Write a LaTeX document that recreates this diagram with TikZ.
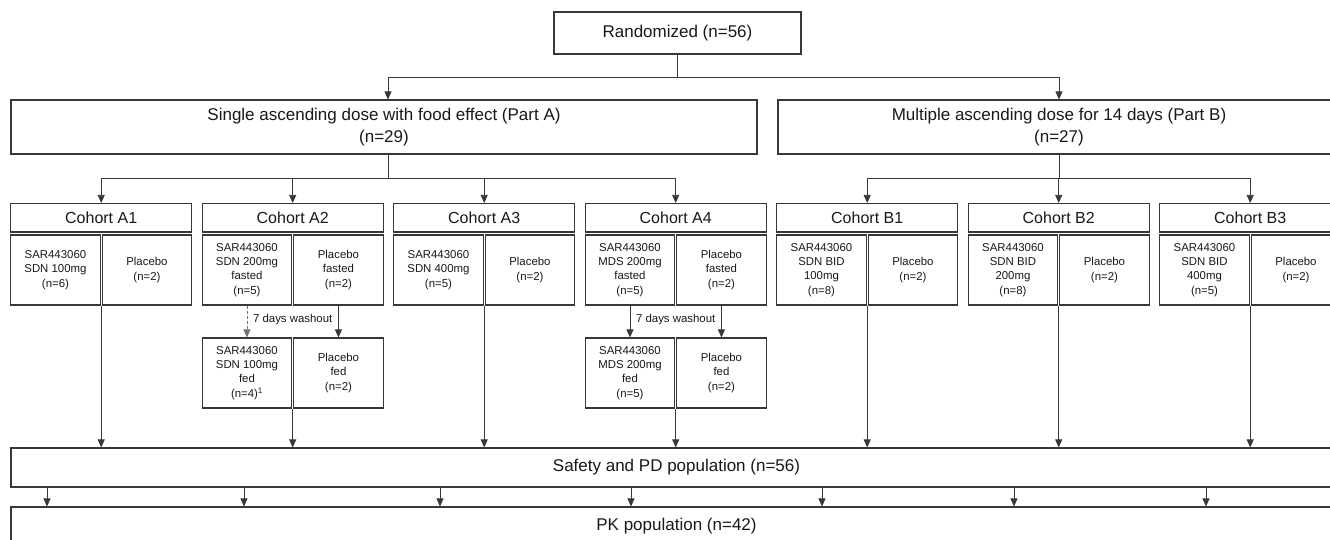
\documentclass[tikz,border=0pt]{standalone}
\usepackage{fontspec}
\setmainfont{Liberation Sans}
\usetikzlibrary{arrows.meta,calc}
\begin{document}
\begin{tikzpicture}[x=1pt,y=-1pt,
  box/.style={draw=black!78, line width=1.1pt, inner sep=0pt, align=center, text=black!90},
  big/.style={box, font=\fontsize{17}{22}\selectfont},
  coh/.style={box, font=\fontsize{16}{19}\selectfont, minimum width=181pt, minimum height=28.5pt},
  sub/.style={box, font=\fontsize{11.4}{14.3}\selectfont, minimum width=89.5pt, minimum height=70pt},
  lbl/.style={inner sep=1pt, text=black!90, font=\fontsize{11.4}{14.3}\selectfont},
  conn/.style={draw=black!78, line width=0.7pt},
  arr/.style={conn, -{Triangle[width=7pt,length=8pt]}},
]
\path[use as bounding box] (0,0) rectangle (1330,540);
\fill[white] (0,0) rectangle (1330,540);
\clip (0,0) rectangle (1330,540);

% top level
\node[big, minimum width=247pt, minimum height=42pt] (rand) at (677.5,33) {Randomized (n=56)};
\node[big, minimum width=746pt, minimum height=54pt] (partA) at (384,127) {Single ascending dose with food effect (Part A)\\(n=29)};
\node[big, minimum width=562pt, minimum height=54pt] (partB) at (1059,127) {Multiple ascending dose for 14 days (Part B)\\(n=27)};

% cohort titles
\node[coh] (cA1) at (101.2,217.75) {Cohort A1};
\node[coh] (cA2) at (292.7,217.75) {Cohort A2};
\node[coh] (cA3) at (484.2,217.75) {Cohort A3};
\node[coh] (cA4) at (675.7,217.75) {Cohort A4};
\node[coh] (cB1) at (867.2,217.75) {Cohort B1};
\node[coh] (cB2) at (1058.7,217.75) {Cohort B2};
\node[coh] (cB3) at (1250.2,217.75) {Cohort B3};

% first row of arms
\node[sub] (sA1) at (55.45,270) {SAR443060\\SDN 100mg\\(n=6)};
\node[sub] (pA1) at (146.95,270) {Placebo\\(n=2)};
\node[sub] (sA2) at (246.95,270) {SAR443060\\SDN 200mg\\fasted\\(n=5)};
\node[sub] (pA2) at (338.45,270) {Placebo\\fasted\\(n=2)};
\node[sub] (sA3) at (438.45,270) {SAR443060\\SDN 400mg\\(n=5)};
\node[sub] (pA3) at (529.95,270) {Placebo\\(n=2)};
\node[sub] (sA4) at (629.95,270) {SAR443060\\MDS 200mg\\fasted\\(n=5)};
\node[sub] (pA4) at (721.45,270) {Placebo\\fasted\\(n=2)};
\node[sub] (sB1) at (821.45,270) {SAR443060\\SDN BID\\100mg\\(n=8)};
\node[sub] (pB1) at (912.95,270) {Placebo\\(n=2)};
\node[sub] (sB2) at (1012.95,270) {SAR443060\\SDN BID\\200mg\\(n=8)};
\node[sub] (pB2) at (1104.45,270) {Placebo\\(n=2)};
\node[sub] (sB3) at (1204.45,270) {SAR443060\\SDN BID\\400mg\\(n=5)};
\node[sub] (pB3) at (1295.95,270) {Placebo\\(n=2)};

% second row (fed)
\node[sub] (sA2b) at (246.95,373) {SAR443060\\SDN 100mg\\fed\\(n=4)\textsuperscript{1}};
\node[sub] (pA2b) at (338.45,373) {Placebo\\fed\\(n=2)};
\node[sub] (sA4b) at (629.95,373) {SAR443060\\MDS 200mg\\fed\\(n=5)};
\node[sub] (pA4b) at (721.45,373) {Placebo\\fed\\(n=2)};

\node[lbl] (w2) at (292.7,320) {7 days washout};
\node[lbl] (w4) at (675.7,320) {7 days washout};

% populations
\node[big, minimum width=1331pt, minimum height=39pt] (safety) at (676.5,467.5) {Safety and PD population (n=56)};
\node[big, minimum width=1331pt, minimum height=39pt] (pk) at (676.5,526.5) {PK population (n=42)};

% connectors: randomized -> parts
\coordinate (jr) at (677.5,77);
\draw[conn] (rand.south) -- (jr);
\draw[arr] (jr) -| ([xshift=4pt]partA.north);
\draw[arr] (jr) -| (partB.north);

% part A -> cohorts
\coordinate (ja) at (388,178);
\draw[conn] ([xshift=4pt]partA.south) -- (ja);
\foreach \c in {cA1,cA2,cA3,cA4} \draw[arr] (ja) -| (\c.north);

% part B -> cohorts
\coordinate (jb) at (1059,178);
\draw[conn] (partB.south) -- (jb);
\foreach \c in {cB1,cB2,cB3} \draw[arr] (jb) -| (\c.north);

% washout arrows
\draw[arr, draw=black!55, dash pattern=on 3pt off 2pt] (sA2.south) -- (sA2b.north);
\draw[arr] (pA2.south) -- (pA2b.north);
\draw[arr] (sA4.south) -- (sA4b.north);
\draw[arr] (pA4.south) -- (pA4b.north);

% arms -> safety population
\foreach \c/\s in {cA1/sA1,cA2/sA2b,cA3/sA3,cA4/sA4b,cB1/sB1,cB2/sB2,cB3/sB3}
  \draw[arr] (\c.center |- \s.south) -- (\c.center |- safety.north);

% safety -> PK
\foreach \x [count=\i] in {47,244,440,631,822,1014,1206} {
  \coordinate (t\i) at (\x,0);
  \draw[arr] (t\i |- safety.south) -- (t\i |- pk.north);
}
\end{tikzpicture}
\end{document}
